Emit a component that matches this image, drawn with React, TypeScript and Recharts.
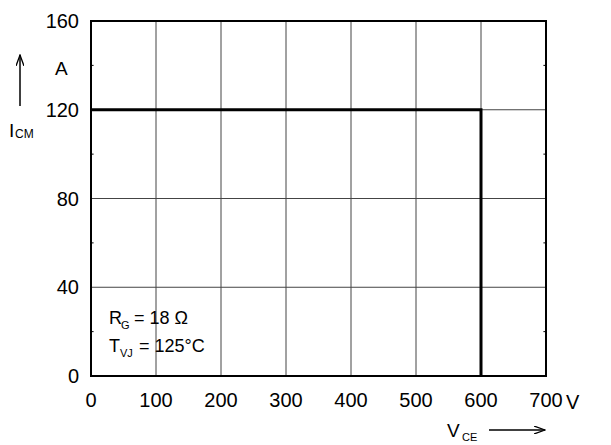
import React from 'react';
import { LineChart, Line, XAxis, YAxis, CartesianGrid, ReferenceArea, ReferenceLine } from 'recharts';

// RBSOA curve: collector voltage (V) vs collector current (A)
const vceValues = [0, 600, 600];
const icmValues = [120, 120, 0];

const xTicks = [0, 100, 200, 300, 400, 500, 600, 700];
const yTicks = [0, 40, 80, 120, 160];
const yMinorTicks = [20, 60, 100, 140];

const data = vceValues.map((v, i) => ({ vce: v, icm: icmValues[i] }));

const FONT = '"Liberation Sans", Arial, Helvetica, sans-serif';

const App: React.FC = () => {
  return (
    <div style={{ position: 'absolute', left: 0, top: 0, width: 611, height: 445, background: '#fff' }}>
      <LineChart width={611} height={445} data={data} margin={{ top: 21, right: 65, left: 0, bottom: 0 }}>
        <CartesianGrid stroke="#444" strokeWidth={1} />
        <XAxis
          dataKey="vce"
          type="number"
          domain={[0, 700]}
          ticks={xTicks}
          height={69}
          axisLine={false}
          tickLine={false}
          tickSize={0}
          tickMargin={17}
          interval={0}
          tick={{ fill: '#000', fontSize: 20, fontFamily: FONT }}
        />
        <YAxis
          type="number"
          domain={[0, 160]}
          ticks={yTicks}
          width={91}
          axisLine={false}
          tickLine={false}
          tickSize={0}
          tickMargin={12}
          interval={0}
          tick={{ fill: '#000', fontSize: 20, fontFamily: FONT }}
        />
        {yMinorTicks.map((y) => (
          <ReferenceLine key={'l' + y} segment={[{ x: 0, y }, { x: 4, y }]} stroke="#000" strokeWidth={1} />
        ))}
        {yMinorTicks.map((y) => (
          <ReferenceLine key={'r' + y} segment={[{ x: 696, y }, { x: 700, y }]} stroke="#000" strokeWidth={1} />
        ))}
        <ReferenceArea x1={0} x2={700} y1={0} y2={160} fill="none" stroke="#000" strokeWidth={2} />
        <Line
          dataKey="icm"
          type="linear"
          stroke="#000"
          strokeWidth={3}
          dot={false}
          isAnimationActive={false}
        />
      </LineChart>
      <svg
        width={611}
        height={445}
        style={{ position: 'absolute', left: 0, top: 0, pointerEvents: 'none' }}
        fontFamily={FONT}
      >
        <defs>
          <marker id="arr" markerWidth="12" markerHeight="8" refX="11" refY="4" orient="auto" markerUnits="userSpaceOnUse">
            <path d="M0,0 L11,4 L0,8" fill="none" stroke="#000" strokeWidth={1.3} />
          </marker>
        </defs>
        {/* y axis label */}
        <line x1={20} y1={106} x2={20} y2={55} stroke="#000" strokeWidth={1.5} markerEnd="url(#arr)" />
        <text x={55} y={75} fontSize={19}>A</text>
        <text x={9} y={137} fontSize={19}>I</text>
        <text x={15} y={138} fontSize={12}>CM</text>
        {/* x axis label */}
        <text x={566} y={409} fontSize={20}>V</text>
        <text x={447} y={437} fontSize={19}>V</text>
        <text x={462} y={441} fontSize={11}>CE</text>
        <line x1={489} y1={430} x2={545} y2={430} stroke="#000" strokeWidth={1.5} markerEnd="url(#arr)" />
        {/* conditions */}
        <text x={109} y={324} fontSize={18}>R</text>
        <text x={121} y={329} fontSize={11}>G</text>
        <text x={134} y={324} fontSize={18}>= 18 Ω</text>
        <text x={109} y={352} fontSize={18}>T</text>
        <text x={120} y={357} fontSize={11}>VJ</text>
        <text x={139} y={352} fontSize={18}>= 125°C</text>
      </svg>
    </div>
  );
};

export default App;
